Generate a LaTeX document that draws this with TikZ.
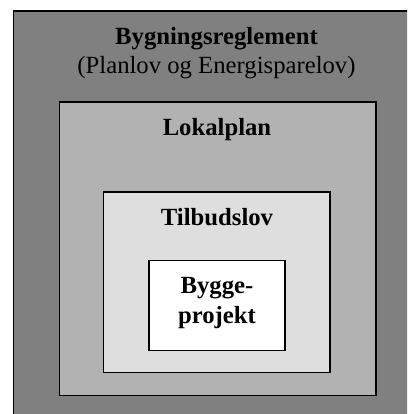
\documentclass[tikz,border=0pt]{standalone}
\usepackage{fontspec}
\setmainfont{Liberation Serif}
\begin{document}
\begin{tikzpicture}[x=1pt,y=-1pt,
  frame/.style={draw=black,line width=1.6pt,anchor=north west,inner sep=0pt,outer sep=0pt},
  lbl/.style={anchor=base,inner sep=0pt,font=\fontsize{24.7}{30}\selectfont\bfseries},
  sub/.style={anchor=base,inner sep=0pt,font=\fontsize{24.7}{30}\selectfont}]
  \useasboundingbox (0,0) rectangle (407,414);
  \clip (0,0) rectangle (407,414);
  % nested regulation levels
  \node[frame,fill=black!50,minimum width=410pt,minimum height=420pt] (outer) at (13.5,11) {};
  \node[frame,fill=black!30,minimum width=316.5pt,minimum height=293.5pt] (lokal) at (59.5,102) {};
  \node[frame,fill=black!13,minimum width=226.5pt,minimum height=180.5pt] (tilbud) at (103.5,192) {};
  \node[frame,fill=white,minimum width=136pt,minimum height=90pt] (bygge) at (149,260.5) {};
  % labels
  \node[lbl] (t1) at (216.5,45) {Bygningsreglement};
  \node[sub] (t2) at (216.5,74) {(Planlov og Energisparelov)};
  \node[lbl] (t3) at (217,135.5) {Lokalplan};
  \node[lbl] (t4) at (217,225) {Tilbudslov};
  \node[lbl] (t5) at (217,293) {Bygge-};
  \node[lbl] (t6) at (217,323) {projekt};
\end{tikzpicture}
\end{document}
